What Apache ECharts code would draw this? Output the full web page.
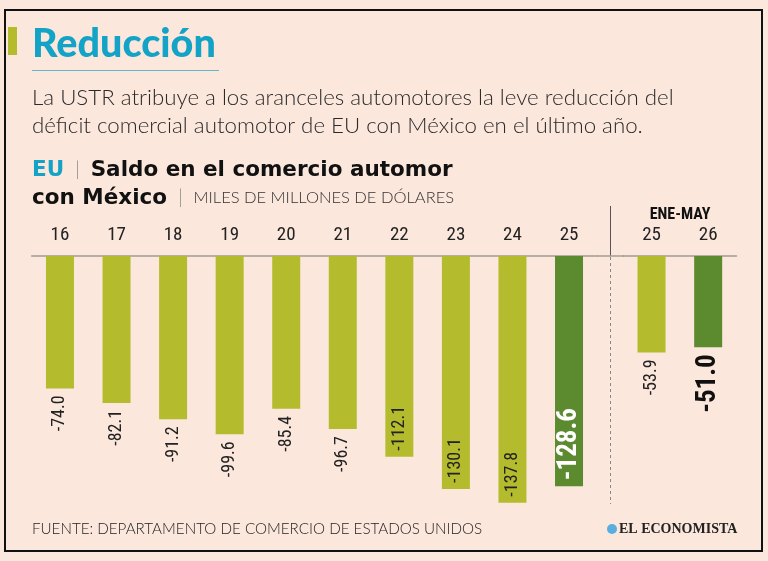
<!DOCTYPE html>
<html>
<head>
<meta charset="utf-8">
<script src="https://cdn.jsdelivr.net/npm/echarts@6/dist/echarts.min.js"></script>
<style>
  html, body { margin: 0; padding: 0; background: #fbe7dc; }
  #chart { width: 768px; height: 561px; }
</style>
</head>
<body>
<div id="chart"></div>
<script>
// datos anuales
var years = ['16', '17', '18', '19', '20', '21', '22', '23', '24', '25'];
var values = [-74.0, -82.1, -91.2, -99.6, -85.4, -96.7, -112.1, -130.1, -137.8, -128.6];
// enero-mayo
var ytdYears = ['25', '26'];
var ytdValues = [-53.9, -51.0];
// etiquetas que van dentro de la barra
var insideIdx = [6, 7, 8, 9];

var LIGHT = '#b4bc2e',
  DARK = '#5c8a2f',
  TEAL = '#13a3c6',
  NARROW = '"Roboto Condensed", "Open Sans Condensed", sans-serif',
  SANS = 'Lato, "Noto Sans", sans-serif',
  HEAVY = '"DejaVu Sans", sans-serif';

var outsideLabel = {
  show: true,
  position: 'bottom',
  rotate: 90,
  align: 'right',
  verticalAlign: 'middle',
  distance: 7,
  fontFamily: NARROW,
  fontSize: 18,
  color: '#222',
  formatter: function (p) { return p.value.toFixed(1); }
};

function ext(a, b) {
  var o = {};
  for (var k in a) o[k] = a[k];
  for (var k2 in b) o[k2] = b[k2];
  return o;
}

function barItems(vals, withInside) {
  return vals.map(function (v, i) {
    var dark = i === vals.length - 1;
    var item = { value: v, itemStyle: { color: dark ? DARK : LIGHT } };
    if (withInside && insideIdx.indexOf(i) >= 0) {
      item.label = {
        position: 'insideBottom',
        align: 'left',
        verticalAlign: 'middle',
        distance: 6,
        color: dark ? '#fff' : '#222',
        fontWeight: dark ? 'bold' : 'normal',
        fontSize: dark ? 27 : 18
      };
    } else if (dark) {
      item.label = { fontWeight: 'bold', fontSize: 27, color: '#111', distance: 7 };
    }
    return item;
  });
}

var chart = echarts.init(document.getElementById('chart'));
var axisCommon = {
  type: 'category',
  position: 'top',
  axisLine: { lineStyle: { color: '#a39c96', width: 1.5 } },
  axisTick: { show: false },
  axisLabel: { fontFamily: NARROW, fontSize: 19, color: '#222', margin: 11 }
};
chart.setOption({
  backgroundColor: '#fbe7dc',
  animation: false,
  grid: [
    { left: 31.7, top: 256, width: 565.6, height: 268.5 },
    { left: 623.2, top: 256, width: 113.3, height: 268.5 }
  ],
  xAxis: [
    ext(axisCommon, { gridIndex: 0, data: years }),
    ext(axisCommon, { gridIndex: 1, data: ytdYears })
  ],
  yAxis: [
    { type: 'value', gridIndex: 0, min: -150, max: 0, show: false },
    { type: 'value', gridIndex: 1, min: -150, max: 0, show: false }
  ],
  series: [
    {
      type: 'bar', xAxisIndex: 0, yAxisIndex: 0, barWidth: 28,
      label: outsideLabel, data: barItems(values, true)
    },
    {
      type: 'bar', xAxisIndex: 1, yAxisIndex: 1, barWidth: 28,
      label: outsideLabel, data: barItems(ytdValues, false)
    }
  ],
  graphic: [
    // marco
    { type: 'rect', shape: { x: 5, y: 10, width: 757, height: 541 }, style: { fill: 'none', stroke: '#111', lineWidth: 2 } },
    { type: 'rect', shape: { x: 8, y: 27, width: 9, height: 28 }, style: { fill: LIGHT } },
    { type: 'text', x: 32, y: 44, style: { text: 'Reducción', font: '900 39.5px ' + SANS, fill: TEAL, textVerticalAlign: 'middle' } },
    { type: 'line', shape: { x1: 32, y1: 70.5, x2: 219, y2: 70.5 }, style: { stroke: '#5fb8c9', lineWidth: 1 } },
    { type: 'text', x: 32, y: 98, style: { text: 'La USTR atribuye a los aranceles automotores la leve reducción del', font: '300 22.3px ' + SANS, fill: '#2a2a2a', textVerticalAlign: 'middle' } },
    { type: 'text', x: 32, y: 126, style: { text: 'déficit comercial automotor de EU con México en el último año.', font: '300 22.3px ' + SANS, fill: '#2a2a2a', textVerticalAlign: 'middle' } },
    {
      type: 'text', x: 32, y: 170,
      style: {
        text: '{t|EU}{s|  |  }{b|Saldo en el comercio automor}',
        textVerticalAlign: 'middle',
        rich: {
          t: { font: 'bold 21.5px ' + HEAVY, fill: TEAL },
          s: { font: '300 20px ' + SANS, fill: '#888' },
          b: { font: 'bold 21.5px ' + HEAVY, fill: '#111' }
        }
      }
    },
    {
      type: 'text', x: 32, y: 198,
      style: {
        text: '{b|con México}{s|  |  }{m|MILES DE MILLONES DE DÓLARES}',
        textVerticalAlign: 'middle',
        rich: {
          b: { font: 'bold 21.5px ' + HEAVY, fill: '#111' },
          s: { font: '300 20px ' + SANS, fill: '#888' },
          m: { font: '300 16.5px ' + SANS, fill: '#333' }
        }
      }
    },
    { type: 'text', x: 680, y: 215, style: { text: 'ENE-MAY', font: 'bold 16px ' + NARROW, fill: '#111', textAlign: 'center', textVerticalAlign: 'middle' } },
    // separador
    { type: 'line', shape: { x1: 610.5, y1: 206, x2: 610.5, y2: 256 }, style: { stroke: '#555', lineWidth: 1 } },
    { type: 'line', shape: { x1: 610.5, y1: 257, x2: 610.5, y2: 504 }, style: { stroke: '#888', lineWidth: 1, lineDash: [3, 3] } },
    { type: 'line', shape: { x1: 597, y1: 256, x2: 624, y2: 256 }, style: { stroke: '#a39c96', lineWidth: 1.5 } },
    // pie
    { type: 'text', x: 32, y: 529, style: { text: 'FUENTE: DEPARTAMENTO DE COMERCIO DE ESTADOS UNIDOS', font: '300 15.2px ' + SANS, fill: '#222', textVerticalAlign: 'middle' } },
    { type: 'circle', shape: { cx: 612, cy: 529, r: 5 }, style: { fill: '#58aee0' } },
    { type: 'text', x: 619, y: 529, style: { text: 'EL ECONOMISTA', font: 'bold 14px "Liberation Serif", serif', fill: '#222', textVerticalAlign: 'middle' } }
  ]
});
</script>
</body>
</html>
